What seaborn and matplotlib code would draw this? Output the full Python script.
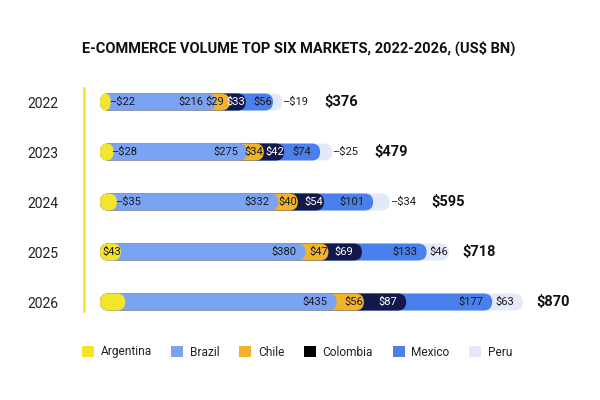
import matplotlib.pyplot as plt
import numpy as np
import pandas as pd
import seaborn as sns
from matplotlib.patches import FancyBboxPatch, Patch

years = ["2022", "2023", "2024", "2025", "2026"]
countries = ["Argentina", "Brazil", "Chile", "Colombia", "Mexico", "Peru"]
argentina = [22, 28, 35, 43, 52]
brazil = [216, 275, 332, 380, 435]
chile = [29, 34, 40, 47, 56]
colombia = [33, 42, 54, 69, 87]
mexico = [56, 74, 101, 133, 177]
peru = [19, 25, 34, 46, 63]
totals = [376, 479, 595, 718, 870]

# where the small end labels go: inside the bar, outside with a dash, or not at all
arg_label = ["out", "out", "out", "in", None]
peru_label = ["out", "out", "out", "in", "in"]

colors = {
    "Argentina": "#F2E52B",
    "Brazil": "#7BA3F3",
    "Chile": "#F2B32B",
    "Colombia": "#13194A",
    "Mexico": "#4A80EB",
    "Peru": "#E3E9F8",
}
legend_colors = dict(colors, Colombia="#000000")

sns.set_theme(style="white")
plt.rcParams["font.family"] = ["Roboto", "DejaVu Sans"]

values = np.array([argentina, brazil, chile, colombia, mexico, peru])
ends = values.cumsum(axis=0)
starts = ends - values

rows = []
for i, c in enumerate(countries):
    for j, y in enumerate(years):
        rows.append({"Year": y, "Country": c, "End": ends[i, j]})
df = pd.DataFrame(rows)

fig = plt.figure(figsize=(6, 4), dpi=100)
ax_w_px = 480
ax = fig.add_axes([100 / 600, 73 / 400, ax_w_px / 600, 250 / 400])

# cumulative bars, largest first so every country sits on top of the next one
sns.barplot(data=df, x="End", y="Year", hue="Country", hue_order=countries[::-1],
            order=years, palette=colors, saturation=1, dodge=False, width=0.34,
            orient="h", errorbar=None, legend=False, ax=ax)

ppu = 0.486  # pixels per US$ bn
ax.set_xlim(0, ax_w_px / ppu)
ax.set_ylim(4.5, -0.5)


def px(v):
    return v / ppu


# swap the plain rectangles for capsules
r_x = px(8.5)
for bar in list(ax.patches):
    x, y, w, h = bar.get_x(), bar.get_y(), bar.get_width(), bar.get_height()
    r = min(r_x, w / 2)
    cap = FancyBboxPatch((x, y), w, h, boxstyle=f"round,pad=0,rounding_size={r}",
                         mutation_aspect=(h / 2) / r, facecolor=bar.get_facecolor(),
                         edgecolor="none", zorder=bar.get_zorder())
    ax.add_patch(cap)
    bar.remove()

lab_kw = dict(va="center", fontsize=8, zorder=5)
inside = {j: [] for j in range(len(years))}
for i, c in enumerate(countries):
    for j in range(len(years)):
        v, s, e = values[i, j], starts[i, j], ends[i, j]
        txt = f"${v}"
        col = "white" if c == "Colombia" else "#1a1a1a"
        if c == "Argentina":
            if arg_label[j] == "out":
                ax.text(e - px(2), j, "–" + txt, ha="left", color=col, **lab_kw)
            elif arg_label[j] == "in":
                ax.text(s + px(2), j, txt, ha="left", color=col, **lab_kw)
            continue
        if c == "Peru" and peru_label[j] == "out":
            ax.text(e, j, "–" + txt, ha="left", color=col, **lab_kw)
            continue
        pad = 9 if v * ppu > 30 else 0.5
        inside[j].append(ax.text(e - px(pad), j, txt, ha="right", color=col, **lab_kw))

# nudge crowded inside labels to the left so they don't run into each other
fig.canvas.draw()
renderer = fig.canvas.get_renderer()
for j, texts in inside.items():
    for k in range(len(texts) - 2, -1, -1):
        left_next = texts[k + 1].get_window_extent(renderer).x0
        right_cur = texts[k].get_window_extent(renderer).x1
        gap = right_cur - (left_next - 2)
        if gap > 0:
            x0, y0 = texts[k].get_position()
            texts[k].set_x(x0 - px(gap))

for j, t in enumerate(totals):
    off = 30 if peru_label[j] == "out" else 10
    ax.annotate(f"${t}", xy=(ends[-1, j], j), xytext=(off, 0), textcoords="offset points",
                ha="left", va="center", fontsize=10.5, fontweight="bold", color="#111111")

ax.set_xticks([])
ax.set_xlabel("")
ax.set_ylabel("")
for side in ["top", "right", "bottom"]:
    ax.spines[side].set_visible(False)
ax.spines["left"].set_color(colors["Argentina"])
ax.spines["left"].set_linewidth(1.8)
ax.spines["left"].set_position(("outward", 11.5))
ax.spines["left"].set_bounds(-0.28, 4.18)
ax.tick_params(axis="y", length=0, pad=18.5, labelsize=10, labelcolor="#222222")

fig.text(299 / 600, 1 - 48 / 400, "E-COMMERCE VOLUME TOP SIX MARKETS, 2022-2026, (US$ BN)",
         ha="center", va="center", fontsize=10.5, fontweight="bold", color="#111111")

handles = [Patch(facecolor=legend_colors[c], edgecolor="none", label=c) for c in countries]
fig.legend(handles=handles, loc="center", bbox_to_anchor=(297 / 600, 1 - 352 / 400), ncol=6,
           frameon=False, fontsize=8.6, handlelength=1.0, handleheight=1.0,
           handletextpad=0.55, columnspacing=1.65, labelcolor="#222222")

fig.savefig("out.png", dpi=100)
